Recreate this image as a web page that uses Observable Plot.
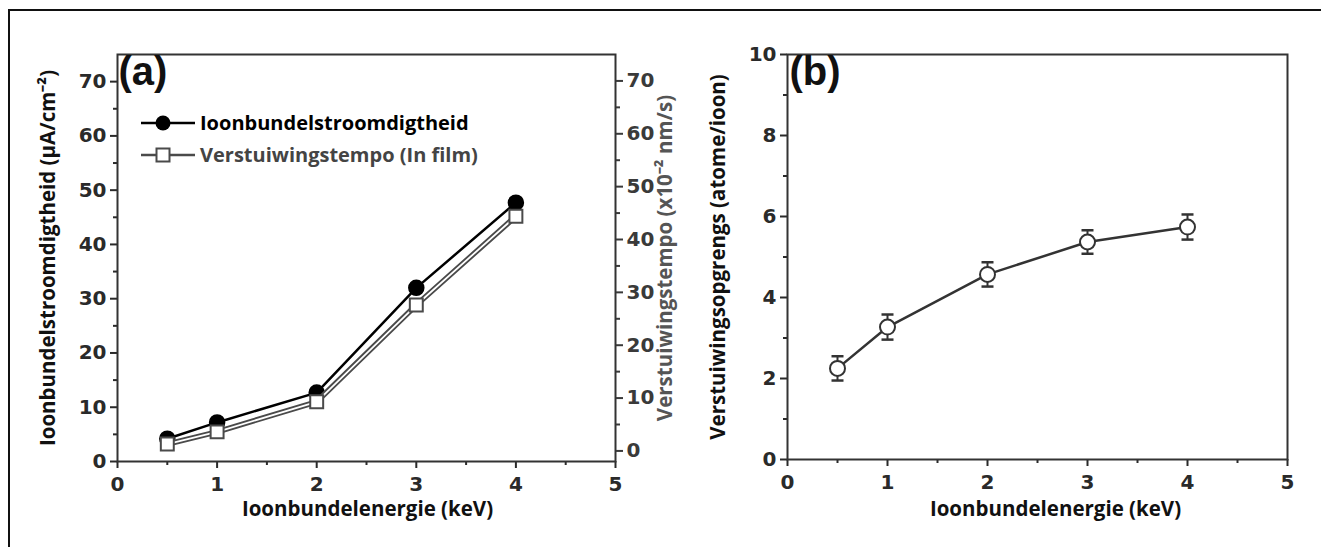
<!DOCTYPE html>
<html><head><meta charset="utf-8">
<script src="https://cdn.jsdelivr.net/npm/d3@7"></script>
<script src="https://cdn.jsdelivr.net/npm/@observablehq/plot@0.6"></script>
<style>
body{margin:0;background:#fff}
#wrap{position:relative;width:1321px;height:547px;overflow:hidden;background:#fff}
#wrap svg.plotsvg{position:absolute;left:0;top:0}
#border{position:absolute;left:8px;top:9px;width:1400px;height:600px;border-left:2px solid #111;border-top:2px solid #111}
.leg{position:absolute;left:140px;font-family:"Open Sans",sans-serif;font-weight:700;font-size:20px;display:flex;align-items:center;white-space:nowrap}
.leg svg{margin-right:4px}
</style></head><body><div id="wrap"><div id="border"></div></div>
<script>
// ---- data ----
const energy = [0.5, 1, 2, 3, 4];                      // keV
const currentDensity = [4.2, 7.2, 12.7, 32.0, 47.7];   // µA/cm²  (left axis a)
const sputterRate = [1.3, 3.6, 9.3, 27.6, 44.4];       // x10^-2 nm/s (right axis a)
const sputterYield = [2.25, 3.27, 4.57, 5.37, 5.74];   // atome/ioon (b)
const yieldErr = [0.30, 0.31, 0.30, 0.29, 0.31];
const xTicks = [0, 1, 2, 3, 4, 5];
const xMinor = [0.5, 1.5, 2.5, 3.5, 4.5];
const yTicksA = [0, 10, 20, 30, 40, 50, 60, 70];
const yMinorA = [5, 15, 25, 35, 45, 55, 65];
const yTicksB = [0, 2, 4, 6, 8, 10];
const yMinorB = [1, 3, 5, 7, 9];
const titleA = "Ioonbundelstroomdigtheid (\u03BCA/cm\u207B\u00B2)";
const titleA2 = "Verstuiwingstempo (x10\u207B\u00B2 nm/s)";
const titleB = "Verstuiwingsopgrengs (atome/ioon)";
const titleX = "Ioonbundelenergie (keV)";
const legendLabels = ["Ioonbundelstroomdigtheid", "Verstuiwingstempo (In film)"];

const dataA = energy.map((e, i) => ({e, v: currentDensity[i]}));
const dataA2 = energy.map((e, i) => ({e, v: sputterRate[i]}));
const dataB = energy.map((e, i) => ({e, v: sputterYield[i], lo: sputterYield[i] - yieldErr[i], hi: sputterYield[i] + yieldErr[i]}));

const W = 1321, H = 547;
const tickFont = {fontFamily: "DejaVu Sans", fontWeight: "bold", fontSize: 20};
const ax = "#2a2a2a";
const titleOpts = {fontFamily: "Open Sans", fontWeight: 700, fontSize: 20.5, fill: "#111", textAnchor: "middle"};
const capSymbol = {draw(ctx, size) { const r = Math.sqrt(size / Math.PI); ctx.moveTo(-r, 0); ctx.lineTo(r, 0); }};
const major = (o) => ({strokeWidth: 2, label: null, tickFormat: d => d, ...tickFont, ...o});
const minor = (o) => ({tickSize: 4, strokeWidth: 2, label: null, fill: "none", ...o});

const wrap = document.getElementById("wrap");
function add(p) { p.classList.add("plotsvg"); wrap.appendChild(p); }

// Panel (a), left axis
add(Plot.plot({
  width: W, height: H,
  marginLeft: 117, marginRight: W - 615, marginTop: 54, marginBottom: H - 461,
  style: {background: "transparent", overflow: "visible"},
  x: {domain: [0, 5]},
  y: {domain: [0, 75]},
  marks: [
    Plot.axisX(xTicks, major({tickSize: 7, tickPadding: 8, color: ax})),
    Plot.axisX(xMinor, minor({stroke: ax})),
    Plot.axisY(yTicksA, major({tickSize: 7, tickPadding: 4, color: ax})),
    Plot.axisY(yMinorA, minor({stroke: ax})),
    Plot.frame({stroke: "#333", strokeWidth: 2}),
    Plot.line(dataA, {x: "e", y: "v", stroke: "#000", strokeWidth: 2.5}),
    Plot.dot(dataA, {x: "e", y: "v", r: 7.5, fill: "#000", stroke: "#000"}),
    Plot.text([titleA], {frameAnchor: "left", dx: -69, rotate: -90, ...titleOpts}),
    Plot.text([titleX], {frameAnchor: "bottom", dy: 54, dx: 1, ...titleOpts}),
    Plot.text(["(a)"], {frameAnchor: "top-left", dx: 1, dy: 2, textAnchor: "start", lineAnchor: "top", fontFamily: "Liberation Sans", fontWeight: "bold", fontSize: 40, fill: "#111"})
  ]
}));

// Panel (a), right axis (second scale)
add(Plot.plot({
  width: W, height: H,
  marginLeft: 117, marginRight: W - 615, marginTop: 54, marginBottom: H - 461,
  style: {background: "transparent", overflow: "visible"},
  x: {domain: [0, 5], axis: null},
  y: {domain: [-2, 75], axis: null},
  marks: [
    Plot.axisY(yTicksA, major({anchor: "right", tickSize: 7, tickPadding: 4, color: "#3a3a3a"})),
    Plot.axisY(yMinorA, minor({anchor: "right", stroke: "#3a3a3a"})),
    Plot.line(dataA2, {x: "e", y: "v", stroke: "#4a4a4a", strokeWidth: 5.5}),
    Plot.line(dataA2, {x: "e", y: "v", stroke: "#fff", strokeWidth: 1.8}),
    Plot.dot(dataA2, {x: "e", y: "v", symbol: "square", r: 7.3, fill: "#fff", stroke: "#4a4a4a", strokeWidth: 2}),
    Plot.text([titleA2], {frameAnchor: "right", dx: 50, rotate: -90, ...titleOpts, fill: "#555"})
  ]
}));

// Panel (b)
add(Plot.plot({
  width: W, height: H,
  marginLeft: 787, marginRight: W - 1287, marginTop: 54, marginBottom: H - 459,
  style: {background: "transparent", overflow: "visible"},
  x: {domain: [0, 5]},
  y: {domain: [0, 10]},
  marks: [
    Plot.axisX(xTicks, major({tickSize: 7, tickPadding: 8, color: ax})),
    Plot.axisX(xMinor, minor({stroke: ax})),
    Plot.axisY(yTicksB, major({tickSize: 7, tickPadding: 4, color: ax})),
    Plot.axisY(yMinorB, minor({stroke: ax})),
    Plot.frame({stroke: "#333", strokeWidth: 2}),
    Plot.line(dataB, {x: "e", y: "v", stroke: "#333", strokeWidth: 2.5}),
    Plot.ruleX(dataB, {x: "e", y1: "lo", y2: "hi", stroke: "#333", strokeWidth: 2}),
    Plot.dot(dataB, {x: "e", y: "lo", symbol: capSymbol, r: 6, stroke: "#333", strokeWidth: 2.5}),
    Plot.dot(dataB, {x: "e", y: "hi", symbol: capSymbol, r: 6, stroke: "#333", strokeWidth: 2.5}),
    Plot.dot(dataB, {x: "e", y: "v", r: 7.5, fill: "#fff", stroke: "#333", strokeWidth: 2}),
    Plot.text([titleB], {frameAnchor: "left", dx: -69, rotate: -90, ...titleOpts}),
    Plot.text([titleX], {frameAnchor: "bottom", dy: 56, dx: 18, ...titleOpts}),
    Plot.text(["(b)"], {frameAnchor: "top-left", dx: 2, dy: 2, textAnchor: "start", lineAnchor: "top", fontFamily: "Liberation Sans", fontWeight: "bold", fontSize: 40, fill: "#111"})
  ]
}));

// Legend for panel (a)
const legendStyles = [
  {top: 109, color: "#000", sym: '<circle cx="23" cy="12" r="7.5" fill="#000"/>', line: "#000"},
  {top: 141, color: "#444", sym: '<rect x="16.5" y="5.5" width="13" height="13" fill="#fff" stroke="#4a4a4a" stroke-width="2"/>', line: "#4a4a4a"}
];
legendLabels.forEach((lab, i) => {
  const s = legendStyles[i];
  const d = document.createElement("div");
  d.className = "leg";
  d.style.top = s.top + "px";
  d.style.color = s.color;
  d.innerHTML = `<svg width="56" height="24"><line x1="1" y1="12" x2="55" y2="12" stroke="${s.line}" stroke-width="2.5"/>${s.sym}</svg><span>${lab}</span>`;
  wrap.appendChild(d);
});
</script></body></html>
